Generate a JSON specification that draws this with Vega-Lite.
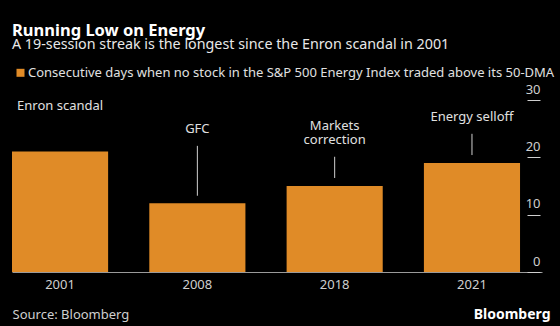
{
  "$schema": "https://vega.github.io/schema/vega-lite/v6.json",
  "width": 530,
  "height": 172,
  "autosize": {"type": "none"},
  "padding": {"left": 12, "top": 100, "right": 18, "bottom": 54},
  "background": "#000000",
  "config": {
    "view": {"stroke": null},
    "font": "Noto Sans",
    "text": {"font": "Noto Sans"}
  },
  "title": {
    "text": "Running Low on Energy",
    "anchor": "start",
    "frame": "group",
    "orient": "top",
    "offset": -1,
    "font": "Noto Sans",
    "fontSize": 16.5,
    "fontWeight": "bold",
    "color": "#ffffff"
  },
  "data": {
    "values": [
      {"year": "2001", "value": 21, "series": "Consecutive days when no stock in the S&P 500 Energy Index traded above its 50-DMA", "note": "Enron scandal", "noteY": 29, "lineTop": null, "lineBottom": null},
      {"year": "2008", "value": 12, "series": "Consecutive days when no stock in the S&P 500 Energy Index traded above its 50-DMA", "note": "GFC", "noteY": 25, "lineTop": 22, "lineBottom": 13.3},
      {"year": "2018", "value": 15, "series": "Consecutive days when no stock in the S&P 500 Energy Index traded above its 50-DMA", "note": "Markets\ncorrection", "noteY": 25.5, "lineTop": 20.1, "lineBottom": 16.4},
      {"year": "2021", "value": 19, "series": "Consecutive days when no stock in the S&P 500 Energy Index traded above its 50-DMA", "note": "Energy selloff", "noteY": 27, "lineTop": 24.1, "lineBottom": 20.4}
    ]
  },
  "encoding": {
    "x": {
      "field": "year",
      "type": "nominal",
      "scale": {"paddingInner": 0.3, "paddingOuter": 0.08, "align": 0},
      "axis": {
        "labelAngle": 0,
        "labelFontSize": 13,
        "labelColor": "#cfcfcf",
        "labelPadding": 6,
        "ticks": false,
        "domainColor": "#9a9a9a",
        "title": "Source: Bloomberg",
        "titleAnchor": "start",
        "titleAlign": "left",
        "titleFontSize": 13,
        "titleFontWeight": "normal",
        "titleColor": "#cfcfcf",
        "titlePadding": 17
      }
    }
  },
  "layer": [
    {
      "mark": {"type": "bar", "color": "#e08b27"},
      "encoding": {
        "y": {
          "field": "value",
          "type": "quantitative",
          "scale": {"domain": [0, 30], "nice": false},
          "axis": {
            "orient": "right",
            "offset": -15,
            "values": [0, 10, 20, 30],
            "tickSize": 13,
            "tickColor": "#cfcfcf",
            "domain": false,
            "grid": false,
            "labelAlign": "right",
            "labelBaseline": "bottom",
            "labelPadding": 0,
            "labelOffset": -4,
            "labelFontSize": 13,
            "labelColor": "#cfcfcf",
            "title": "Bloomberg",
            "titleAngle": 0,
            "titleX": 23,
            "titleY": 214,
            "titleAlign": "right",
            "titleBaseline": "middle",
            "titleFontSize": 14,
            "titleFontWeight": "bold",
            "titleColor": "#ffffff"
          }
        },
        "color": {
          "field": "series",
          "type": "nominal",
          "scale": {"range": ["#e08b27"]},
          "legend": {
            "title": "A 19-session streak is the longest since the Enron scandal in 2001",
            "titleFont": "Noto Sans",
            "titleFontSize": 14.3,
            "titleFontWeight": "normal",
            "titleColor": "#e8e8e8",
            "titleLimit": 600,
            "titlePadding": 14,
            "orient": "none",
            "legendX": 0,
            "legendY": -62,
            "symbolType": "square",
            "symbolSize": 64,
            "symbolStrokeWidth": 0,
            "symbolOffset": 2,
            "labelFontSize": 13,
            "labelColor": "#e0e0e0",
            "labelLimit": 600,
            "labelOffset": 1,
            "padding": 0
          }
        }
      }
    },
    {
      "mark": {"type": "rule", "color": "#d0d0d0", "strokeWidth": 1},
      "encoding": {
        "y": {"field": "lineTop", "type": "quantitative"},
        "y2": {"field": "lineBottom"}
      }
    },
    {
      "mark": {"type": "text", "color": "#e0e0e0", "fontSize": 13, "lineBreak": "\n", "baseline": "middle", "align": "center", "lineHeight": 14},
      "encoding": {
        "y": {"field": "noteY", "type": "quantitative"},
        "text": {"field": "note"}
      }
    }
  ]
}
